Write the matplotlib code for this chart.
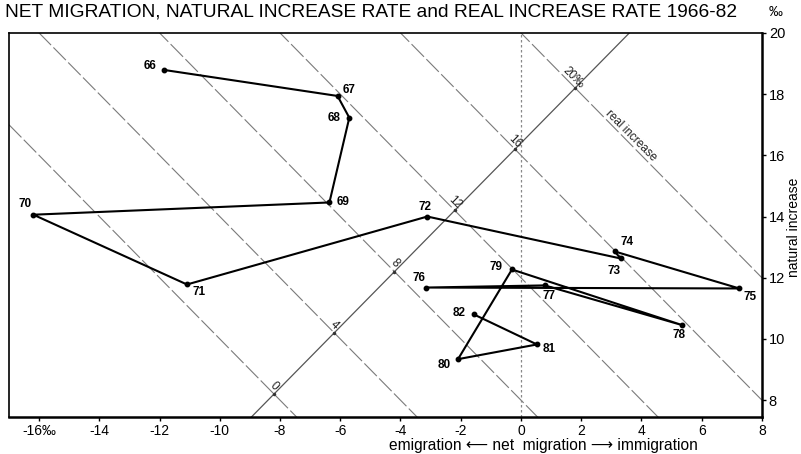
import numpy as np
import matplotlib.pyplot as plt

plt.rcParams['font.family'] = ['Liberation Sans', 'DejaVu Sans']

# years and values (per mille)
years = ['66', '67', '68', '69', '70', '71', '72', '73', '74', '75',
         '76', '77', '78', '79', '80', '81', '82']
net_migration = [-11.85, -6.09, -5.70, -6.36, -16.19, -11.09, -3.11, 3.31, 3.11, 7.25,
                 -3.15, 0.79, 5.36, -0.30, -2.09, 0.53, -1.56]
natural_increase = [18.79, 17.94, 17.23, 14.46, 14.06, 11.78, 14.00, 12.63, 12.86, 11.65,
                    11.68, 11.75, 10.45, 12.27, 9.34, 9.82, 10.80]

real_levels = [0, 4, 8, 12, 16, 20]
x_ticks = [-16, -14, -12, -10, -8, -6, -4, -2, 0, 2, 4, 6, 8]
x_ticklabels = ['-16‰', '-14', '-12', '-10', '-8', '-6', '-4', '-2', '0', '2', '4', '6', '8']
y_ticks = [8, 10, 12, 14, 16, 18, 20]

# label offsets in pixels (dx, dy)
offsets = {
    '66': (-14, 4), '67': (12, 6), '68': (-15, 0), '69': (14, 0), '70': (-8, 11),
    '71': (12, -8), '72': (-2, 10), '73': (-7, -13), '74': (12, 9), '75': (11, -9),
    '76': (-7, 10), '77': (4, -11), '78': (-3, -10), '79': (-16, 2), '80': (-14, -6),
    '81': (12, -5), '82': (-15, 1),
}

fig = plt.figure(figsize=(8.01, 4.54), dpi=100)
ax = fig.add_axes([0.0112, 0.0815, 0.94, 0.846])
xmin, xmax = -17, 8
ymin, ymax = 7.45, 20
ax.set_xlim(xmin, xmax)
ax.set_ylim(ymin, ymax)

# lines of constant real increase (x + y = c)
xs = np.array([xmin, xmax])
for c in real_levels:
    ax.plot(xs, c - xs, color='#7a7a7a', lw=0.8, ls=(0, (16, 3)), zorder=1)

# scale line for the real increase labels
ax.plot(xs, xs + 16.4, color='#555555', lw=0.9, zorder=1)
ax.axvline(0, color='#888888', lw=0.9, ls=(0, (2, 2)), zorder=1)

for c in real_levels:
    xi = (c - 16.4) / 2
    yi = xi + 16.4
    lab = '20‰' if c == 20 else str(c)
    ax.annotate(lab, (xi, yi), xytext=(-2 if c == 20 else 0, 8 if c != 20 else 10),
                textcoords='offset pixels', rotation=-45, ha='center', va='center',
                fontsize=8.5, color='#222222')
    ax.plot(xi, yi, 'o', color='#333333', ms=1.5, zorder=2)
ax.text(3.64, 16.64, 'real increase', rotation=-45, ha='center', va='center',
        fontsize=8.5, color='#222222')

# the path through the years
ax.plot(net_migration, natural_increase, color='black', lw=1.5, marker='o', ms=3.2, zorder=3)
for yr, x, y in zip(years, net_migration, natural_increase):
    dx, dy = offsets[yr]
    ax.annotate(yr, (x, y), xytext=(dx, dy), textcoords='offset pixels',
                ha='center', va='center', fontsize=8.5, fontweight='bold')

ax.set_xticks(x_ticks)
ax.set_xticklabels(x_ticklabels, fontsize=10)
ax.set_yticks(y_ticks)
ax.yaxis.tick_right()
ax.tick_params(axis='y', labelsize=10.5, length=3, width=1, pad=2)
ax.tick_params(axis='x', length=3, width=1, pad=2)
for side in ['left', 'top']:
    ax.spines[side].set_linewidth(1.2)
for side in ['right', 'bottom']:
    ax.spines[side].set_linewidth(1.8)

fig.text(0.006, 0.973, 'NET MIGRATION, NATURAL INCREASE RATE and REAL INCREASE RATE 1966-82',
         fontsize=13.8, ha='left', va='center')
fig.text(0.968, 0.973, '‰', fontsize=10, ha='center', va='center')
fig.text(0.991, 0.50, 'natural increase', rotation=90, fontsize=10, ha='center', va='center')
fig.text(0.678, 0.018, 'emigration ⟵ net  migration ⟶ immigration',
         fontsize=11.2, ha='center', va='center')

fig.savefig('out.png', dpi=100)
